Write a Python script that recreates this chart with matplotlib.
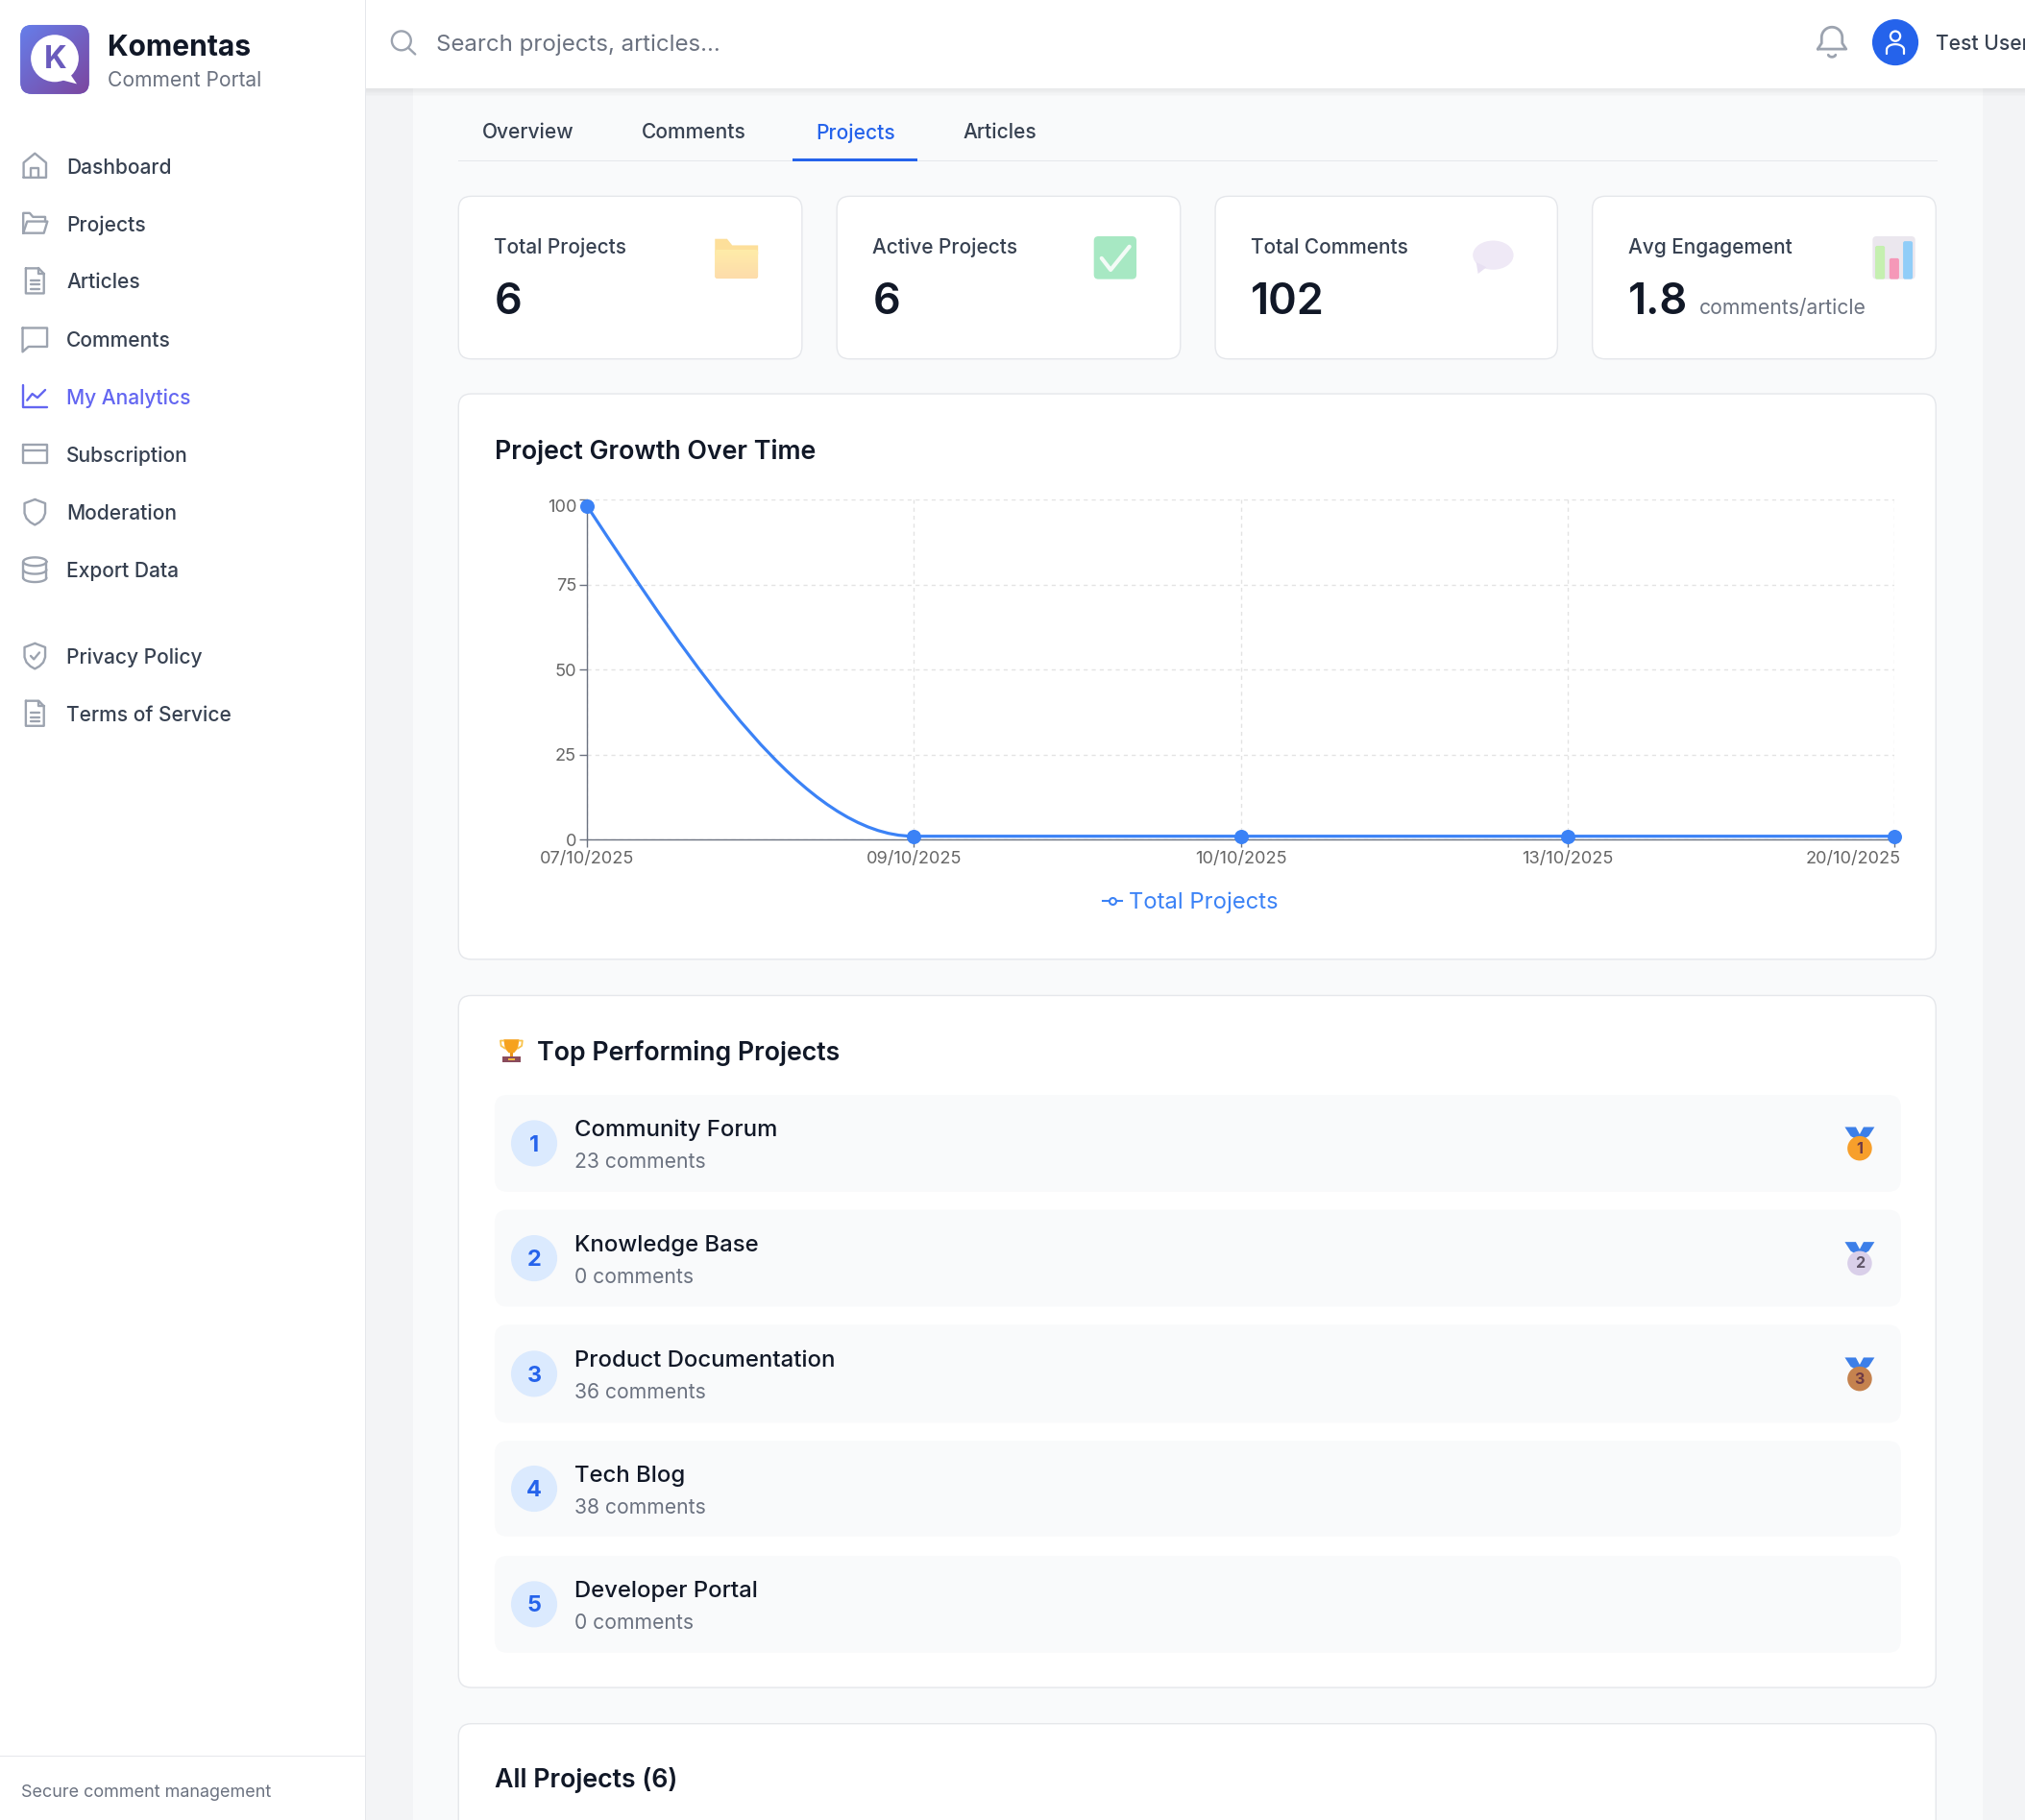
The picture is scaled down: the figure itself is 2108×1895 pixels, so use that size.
import numpy as np
import matplotlib
matplotlib.use("Agg")
import matplotlib.pyplot as plt
from matplotlib.lines import Line2D
from matplotlib.path import Path
from matplotlib.patches import Circle, Ellipse, FancyBboxPatch, PathPatch, Polygon, Rectangle
from matplotlib.transforms import ScaledTranslation

plt.rcParams["font.family"] = ["Inter", "DejaVu Sans"]

# chart data
dates = ["07/10/2025", "09/10/2025", "10/10/2025", "13/10/2025", "20/10/2025"]
total_projects = [98, 1, 1, 1, 1]
y_ticks = [0, 25, 50, 75, 100]

# page content
nav_main = ["Dashboard", "Projects", "Articles", "Comments", "My Analytics",
            "Subscription", "Moderation", "Export Data"]
nav_legal = ["Privacy Policy", "Terms of Service"]
tabs = ["Overview", "Comments", "Projects", "Articles"]
stat_labels = ["Total Projects", "Active Projects", "Total Comments", "Avg Engagement"]
stat_values = ["6", "6", "102", "1.8"]
top_names = ["Community Forum", "Knowledge Base", "Product Documentation", "Tech Blog", "Developer Portal"]
top_comments = [23, 0, 36, 38, 0]

W, H = 1568, 1409.6  # layout units, 1 unit = 1.344 px
BLUE = "#3b82f6"
ACCENT = "#2563eb"
INK = "#111827"
GREY = "#6b7280"
NAV = "#374151"
ICON = "#9ca3af"
LINE = "#e5e7eb"

fig = plt.figure(figsize=(21.08, 18.95), dpi=100, facecolor="#f3f4f6")
bg = fig.add_axes([0, 0, 1, 1], zorder=0)
bg.set_xlim(0, W)
bg.set_ylim(H, 0)
bg.axis("off")


def text(x, y, s, size, color=INK, weight="normal", ha="left", va="center", z=3):
    # va=center sits a bit high for Inter, nudge by a share of the size
    return bg.text(x, y + size * 0.09, s, fontsize=size * 0.968, color=color, weight=weight, ha=ha, va=va, zorder=z)


def box(x0, y0, x1, y1, r=10, fc="white", ec="none", lw=1.0, z=1):
    p = FancyBboxPatch((x0, y0), x1 - x0, y1 - y0, boxstyle=f"round,pad=0,rounding_size={r}",
                       fc=fc, ec=ec, lw=lw, zorder=z)
    bg.add_patch(p)
    return p


def rect(x0, y0, x1, y1, color, z=1, alpha=None):
    bg.add_patch(Rectangle((x0, y0), x1 - x0, y1 - y0, fc=color, ec="none", zorder=z, alpha=alpha))


def stroke(cx, cy, pts, color=ICON, lw=1.7, close=False, z=3):
    pts = list(pts)
    if close:
        pts.append(pts[0])
    xs = [cx + p[0] for p in pts]
    ys = [cy + p[1] for p in pts]
    bg.add_line(Line2D(xs, ys, color=color, lw=lw, solid_joinstyle="round", solid_capstyle="round", zorder=z))


def arc(a, b, t0, t1, oy=0.0):
    t = np.radians(np.linspace(t0, t1, 30))
    return list(zip(a * np.cos(t), oy + b * np.sin(t)))


def gradient(x0, y0, x1, y1, c0, c1, clip, diagonal=False, z=2):
    c0 = np.array(matplotlib.colors.to_rgb(c0))
    c1 = np.array(matplotlib.colors.to_rgb(c1))
    u, v = np.meshgrid(np.linspace(0, 1, 64), np.linspace(0, 1, 64))
    t = (u + v) / 2 if diagonal else v
    im = bg.imshow(c0 + (c1 - c0) * t[..., None], extent=(x0, x1, y1, y0), aspect="auto", zorder=z)
    im.set_clip_path(clip)


def icon_home(x, y, c):
    stroke(x, y, [(-8.7, 9), (-8.7, -2.5), (0, -9.7), (8.7, -2.5), (8.7, 9)], c, close=True)
    stroke(x, y, [(-3, 9), (-3, 2), (3, 2), (3, 9)], c)


def icon_folder(x, y, c):
    stroke(x, y, [(-9, 7.5), (-9, -8), (-4, -8), (-1.5, -5), (8, -5), (8, -1.5)], c)
    stroke(x, y, [(-9, 7.5), (-6, -1.5), (9.7, -1.5), (7, 7.5)], c, close=True)


def icon_doc(x, y, c):
    stroke(x, y, [(-7, -9.7), (3, -9.7), (7, -5.5), (7, 9.7), (-7, 9.7)], c, close=True)
    stroke(x, y, [(3, -9.7), (3, -5.5), (7, -5.5)], c)
    for dy in (-0.5, 3, 6.3):
        stroke(x, y, [(-3.5, dy), (3.5, dy)], c)


def icon_comment(x, y, c):
    stroke(x, y, [(-9.5, -8.5), (9.5, -8.5), (9.5, 6), (-5, 6), (-9.5, 10)], c, close=True)


def icon_chart(x, y, c):
    stroke(x, y, [(-9.5, -9), (-9.5, 8.5), (9.5, 8.5)], c)
    stroke(x, y, [(-6, 3), (-2, -2), (2, 1), (8, -5)], c)


def icon_card(x, y, c):
    stroke(x, y, [(-9.5, -7), (9.5, -7), (9.5, 7), (-9.5, 7)], c, close=True)
    stroke(x, y, [(-9.5, -2.5), (9.5, -2.5)], c)


SHIELD = [(0, -9.7), (8, -6.7), (8, 1), (6.5, 5), (3.5, 8), (0, 10), (-3.5, 8), (-6.5, 5), (-8, 1), (-8, -6.7)]


def icon_shield(x, y, c):
    stroke(x, y, SHIELD, c, close=True)


def icon_shield_check(x, y, c):
    stroke(x, y, SHIELD, c, close=True)
    stroke(x, y, [(-3.2, 0), (-0.8, 2.6), (3.5, -2.6)], c)


def icon_db(x, y, c):
    stroke(x, y, arc(9, 3.3, 0, 360, -6), c)
    stroke(x, y, [(-9, -6), (-9, 6.5)], c)
    stroke(x, y, [(9, -6), (9, 6.5)], c)
    stroke(x, y, arc(9, 3.3, 0, 180, 0.2), c)
    stroke(x, y, arc(9, 3.3, 0, 180, 6.5), c)


# page regions
rect(320, 0, 1535, H, "#f9fafb", z=0.5)
for i in range(6):
    rect(283, 68.4 + i, W, 69.4 + i, "#000000", z=0.9, alpha=0.022 * (6 - i) / 2)
rect(283, 0, W, 68.4, "white", z=1)
rect(0, 0, 283, H, "white", z=1)
rect(282.4, 0, 283.2, H, LINE, z=1.5)
rect(0, 1360, 283, 1360.8, LINE, z=1.5)
text(16, 1387, "Secure comment management", 13.35, GREY)

# logo
logo = box(15.8, 19.3, 69, 72.8, r=9, fc="#667eea", z=2)
gradient(15.8, 19.3, 69, 72.8, "#667eea", "#7c469f", logo, diagonal=True)
bg.add_patch(Ellipse((42.4, 45.2), 37, 36.5, fc="white", ec="none", zorder=3))
bg.add_patch(Polygon([(52, 54), (59.5, 65), (46, 61.5)], fc="white", ec="none", zorder=3))
text(42.8, 44, "K", 24.5, "#6a5bbd", "bold", ha="center", z=4)
text(83, 35, "Komentas", 22.3, INK, "bold")
text(83, 61, "Comment Portal", 15.65, GREY)

# sidebar nav
nav_y = [128.5, 173, 217.5, 262.5, 307, 351.5, 396.5, 441]
nav_icons = [icon_home, icon_folder, icon_doc, icon_comment, icon_chart, icon_card, icon_shield, icon_db]
for label, yy, ic in zip(nav_main, nav_y, nav_icons):
    active = label == "My Analytics"
    ic(27, yy, "#6366f1" if active else ICON)
    text(51.5, yy, label, 15.6, "#6366f1" if active else NAV, "medium")
legal_y = [508, 552.5]
for label, yy, ic in zip(nav_legal, legal_y, [icon_shield_check, icon_doc]):
    ic(27, yy, ICON)
    text(51.5, yy, label, 15.6, NAV, "medium")

# header bar
bg.add_patch(Circle((310.8, 31.5), 7.4, fc="none", ec=ICON, lw=1.7, zorder=3))
stroke(0, 0, [(316.2, 37), (321.5, 42)], ICON)
text(338, 33, "Search projects, articles...", 17.9, GREY)
bell = [(-11, 7.5), (-8, 3), (-8, -1.5)] + arc(8, 8, 180, 360, -1.5) + [(8, 3), (11, 7.5)]
stroke(1418.5, 30.5, bell, ICON, lw=2.0, close=True)
stroke(1418.5, 30.5, arc(3, 2.4, 20, 160, 11.2), ICON, lw=2.0)
bg.add_patch(Circle((1467.6, 32.8), 17.9, fc=ACCENT, ec="none", zorder=3))
bg.add_patch(Circle((1467.6, 28), 3.8, fc="none", ec="white", lw=1.6, zorder=4))
stroke(1467.6, 38.5, arc(6.7, 4.2, 180, 360), "white", lw=1.6, z=4)
stroke(1467.6, 38.5, [(-6.7, 0), (-6.7, 3)], "white", lw=1.6, z=4)
stroke(1467.6, 38.5, [(6.7, 0), (6.7, 3)], "white", lw=1.6, z=4)
text(1499, 32.5, "Test User", 15.6, NAV, "medium")

# tabs
tab_x = [373, 497, 631.5, 746]
for label, xx in zip(tabs, tab_x):
    text(xx, 101.5, label, 15.6, ACCENT if label == "Projects" else NAV, "medium")
rect(355, 124, 1500, 124.9, LINE, z=1)
rect(614, 122.7, 710.5, 124.9, ACCENT, z=1.5)

# stat cards
card_x = [(355, 621), (648, 914), (941, 1206), (1233, 1499)]
for (x0, x1), label, value in zip(card_x, stat_labels, stat_values):
    box(x0, 152, x1, 278, r=10, ec=LINE, lw=1.0)
    text(x0 + 27.7, 190.5, label, 15.5, NAV, "medium")
    text(x0 + 27.7, 231, value, 33.5, INK, "semibold")
text(1315.5, 237.5, "comments/article", 15.7, GREY)

# folder sticker
bg.add_patch(Polygon([(553.6, 185), (563, 185), (567, 190), (587, 190), (587, 197), (553.6, 197)],
                     fc="#fddf9a", ec="none", zorder=2))
front = box(553.6, 193.4, 587, 215.8, r=2, fc="#feeaa5", z=3)
gradient(553.6, 193.4, 587, 215.8, "#ffeca8", "#fddcab", front, z=3.1)
# check sticker
box(847, 183, 880, 216.2, r=3.5, fc="#a7e8c3", z=2)
stroke(0, 0, [(853, 200), (860, 209), (874.5, 191)], "#f4fbf7", lw=3.0)
# speech bubble sticker
bg.add_patch(Ellipse((1156.2, 197.6), 31.5, 22.5, fc="#efe9f6", ec="none", zorder=2))
bg.add_patch(Polygon([(1143, 203), (1151, 207), (1144.5, 212)], fc="#e8e0f2", ec="none", zorder=2))
# bar chart sticker
box(1450, 183, 1483, 216.2, r=3, fc="#ebe7ee", z=2)
for xa, xb, top, col in [(1452, 1459.5, 190.4, "#c5f0b0"), (1463, 1470.5, 200, "#f598b8"), (1473.6, 1481, 186.8, "#90cdf8")]:
    box(xa, top, xb, 216.2, r=1.5, fc=col, z=3)

# chart card
box(355, 305, 1499, 743, r=10, ec=LINE, lw=1.0)
text(383, 348, "Project Growth Over Time", 19.9, INK, "semibold")

# top performing card
box(355, 771, 1499, 1307, r=10, ec=LINE, lw=1.0)
text(416, 814, "Top Performing Projects", 19.9, INK, "semibold")
bg.add_patch(Polygon([(390, 805), (402, 805), (401, 812), (398, 815.5), (394, 815.5), (391, 812)], fc="#f6a21e", ec="none", zorder=3))
stroke(0, 0, [(390, 806), (387.5, 806), (388, 810), (391, 812)], "#f9c34c", lw=1.3)
stroke(0, 0, [(402, 806), (404.5, 806), (404, 810), (401, 812)], "#f9c34c", lw=1.3)
rect(394.8, 815, 397.2, 818, "#e8941a", z=3)
rect(389, 818, 403, 823, "#8a4b5c", z=3)
rect(393.5, 819.5, 398.5, 821.3, "#f6b73c", z=4)

row_y = [(848, 923), (937, 1012), (1026, 1102), (1116, 1190), (1205, 1280)]
medal_cols = ["#f79f2b", "#d9cfe9", "#c5824e"]
medal_ink = ["#6e3a45", "#5f5568", "#6e3a45"]
for i, ((y0, y1), name, n) in enumerate(zip(row_y, top_names, top_comments)):
    box(383, y0, 1472, y1, r=10, fc="#f9fafb", z=2)
    mid = (y0 + y1) / 2
    bg.add_patch(Circle((413.6, mid), 17.9, fc="#dbeafe", ec="none", zorder=3))
    text(413.6, mid, str(i + 1), 17.5, ACCENT, "bold", ha="center", z=4)
    text(445, mid - 11.5, name, 17.8, INK, "medium")
    text(445, mid + 13.5, f"{n} comments", 15.7, GREY)
    if i < 3:
        my = mid + 3.9
        bg.add_patch(Polygon([(1428.5, my - 16.5), (1437, my - 16.5), (1441, my - 9), (1439, my - 6), (1433, my - 9.5)], fc="#3d7fe8", ec="none", zorder=3))
        bg.add_patch(Polygon([(1451.5, my - 16.5), (1443, my - 16.5), (1439, my - 9), (1441, my - 6), (1447, my - 9.5)], fc="#3d7fe8", ec="none", zorder=3))
        bg.add_patch(Circle((1440, my), 9.5, fc=medal_cols[i], ec="none", zorder=4))
        text(1440, my - 0.6, str(i + 1), 12, medal_ink[i], "bold", ha="center", z=5)

# all projects card runs off the bottom of the page
box(355, 1335, 1499, H + 40, r=10, ec=LINE, lw=1.0)
text(383, 1377, "All Projects (6)", 19.9, INK, "semibold")


def monotone_path(x, y):
    """Cubic monotone segments through the data, same as the chart's curve type."""
    x = np.asarray(x, float)
    y = np.asarray(y, float)
    s = np.diff(y) / np.diff(x)
    t = np.zeros(len(x))
    for i in range(1, len(x) - 1):
        h0, h1 = x[i] - x[i - 1], x[i + 1] - x[i]
        p = (s[i - 1] * h1 + s[i] * h0) / (h0 + h1)
        t[i] = (np.sign(s[i - 1]) + np.sign(s[i])) * min(abs(s[i - 1]), abs(s[i]), 0.5 * abs(p))
    t[0] = (3 * s[0] - t[1]) / 2
    t[-1] = (3 * s[-1] - t[-2]) / 2
    verts = [(x[0], y[0])]
    codes = [Path.MOVETO]
    for i in range(len(x) - 1):
        dx = (x[i + 1] - x[i]) / 3
        verts += [(x[i] + dx, y[i] + t[i] * dx), (x[i + 1] - dx, y[i + 1] - t[i + 1] * dx), (x[i + 1], y[i + 1])]
        codes += [Path.CURVE4] * 3
    return Path(verts, codes)


# line chart
ax = fig.add_axes([454.7 / W, 1 - 650.3 / H, 1012.0 / W, (650.3 - 386.8) / H], zorder=2)
ax.patch.set_alpha(0)
xs = np.arange(len(dates))
ax.add_patch(PathPatch(monotone_path(xs, total_projects), fc="none", ec=BLUE, lw=2.3, clip_on=False, zorder=3))
ax.plot(xs, total_projects, "o", color=BLUE, ms=10.8, mew=0, clip_on=False, zorder=4)
ax.set_xlim(0, len(dates) - 1)
ax.set_ylim(0, 100)
ax.set_xticks(xs)
ax.set_xticklabels(dates)
ax.set_yticks(y_ticks)
ax.grid(True, color="#e3e3e3", lw=1.0, dashes=(3, 3))
ax.set_axisbelow(True)
for side in ("top", "right"):
    ax.spines[side].set_visible(False)
for side in ("left", "bottom"):
    ax.spines[side].set_color("#6b7280")
    ax.spines[side].set_linewidth(1.0)
ax.tick_params(axis="both", length=6, width=1.0, color="#6b7280", labelcolor="#666666",
               labelsize=13.1, pad=2)
ax.tick_params(axis="x", pad=2.3)
labels = ax.get_xticklabels()
labels[-1].set_ha("right")
# the last x label is pulled back inside the plot, the 100 label sits just under the top
labels[-1].set_transform(labels[-1].get_transform() + ScaledTranslation(4.8 / 72, 0, fig.dpi_scale_trans))
top_label = ax.get_yticklabels()[-1]
top_label.set_transform(top_label.get_transform() + ScaledTranslation(0, -4.5 / 72, fig.dpi_scale_trans))

proxy = Line2D([0], [0], color=BLUE, lw=1.5, marker="o", ms=5.0, mfc="white", mec=BLUE, mew=1.5, label="Total Projects")
ax.legend(handles=[proxy], loc="center", bbox_to_anchor=(922, 699), bbox_transform=bg.transData, frameon=False,
          labelcolor=BLUE, fontsize=17.1, handlelength=0.85, handletextpad=0.3, borderpad=0, borderaxespad=0)

fig.savefig("out.png", dpi=100)
